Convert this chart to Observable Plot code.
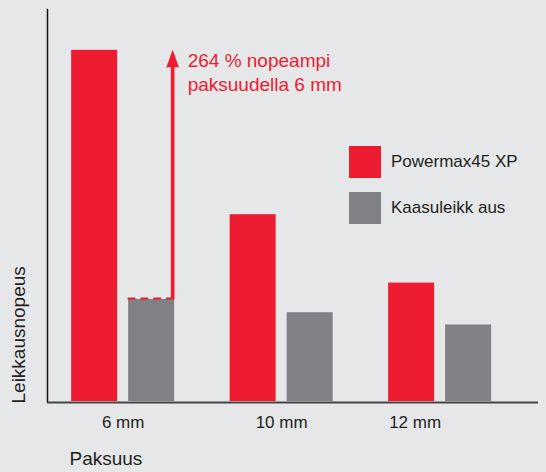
<!DOCTYPE html>
<html>
<head>
<meta charset="utf-8">
<script src="https://cdn.jsdelivr.net/npm/d3@7"></script>
<script src="https://cdn.jsdelivr.net/npm/@observablehq/plot@0.6"></script>
<style>
  html, body { margin: 0; padding: 0; background: #e6e7e9; }
  #wrap { position: relative; width: 546px; height: 472px; font-family: "Liberation Sans", Arial, Helvetica, sans-serif; }
  #legend { position: absolute; left: 349px; top: 146px; }
  #legend .item { display: flex; align-items: center; height: 32px; margin-bottom: 14px; }
  #legend .sw { width: 32px; height: 32px; margin-right: 10px; }
  #legend .lbl { font-size: 17px; color: #231f20; }
</style>
</head>
<body>
<div id="wrap"><div id="chart"></div><div id="legend"></div></div>
<script>
// ---- data ----
const thickness = ["6 mm", "10 mm", "12 mm"];
const series = ["Powermax45 XP", "Kaasuleikk aus"];
const powermax = [344, 183, 116];   // relative cutting speed (Kaasuleikkaus 6 mm = 100)
const kaasu = [100, 87, 75];
const colors = ["#ed1c30", "#808184"];
const annotation = "264 % nopeampi\npaksuudella 6 mm";
const xTitle = "Paksuus";
const yTitle = "Leikkausnopeus";

const rows = thickness.map((t, i) => ({thickness: t, powermax: powermax[i], kaasu: kaasu[i]}));
const first = [rows[0]];
const red = colors[0], grey = colors[1];

const chart = Plot.plot({
  width: 546,
  height: 472,
  marginTop: 9,
  marginBottom: 71,
  marginLeft: 47,
  marginRight: 8,
  style: {background: "#e6e7e9", fontFamily: "'Liberation Sans', Arial, Helvetica, sans-serif", fontSize: "17px", color: "#231f20"},
  x: {domain: thickness, paddingInner: 0.35, paddingOuter: 0.224, align: 0.34, round: false, label: null},
  y: {domain: [0, 384], axis: null, label: null},
  marks: [
    Plot.barY(rows, {x: "thickness", y: "powermax", fill: red, insetRight: 57}),
    Plot.barY(rows, {x: "thickness", y: "kaasu", fill: grey, insetLeft: 57}),
    // dashed reference line on top of the 6 mm gas-cutting bar
    Plot.ruleY(first, {x1: "thickness", x2: "thickness", y: "kaasu", stroke: red, strokeWidth: 2, strokeDasharray: "7.8,5", insetLeft: 56.5, dy: -1}),
    // arrow shaft
    Plot.ruleX(first, {x: "thickness", y1: "powermax", y2: "kaasu", stroke: red, strokeWidth: 3.7, insetTop: 12, dx: 49.5}),
    // arrow head
    Plot.vector(first, {x: "thickness", y: "powermax", length: 17, r: 6, rotate: 0, shape: "spike", anchor: "end", fill: red, stroke: red, strokeWidth: 0.5, dx: 49.5}),
    Plot.text(first, {x: "thickness", y: "powermax", text: () => annotation, fill: red, fontSize: 19, textAnchor: "start", lineAnchor: "top", lineHeight: 1.26, dx: 64.5}),
    // axes
    Plot.frame({anchor: "left", stroke: "#111", strokeWidth: 1.5}),
    Plot.ruleY([0], {stroke: "#444", strokeWidth: 2, dy: 1}),
    Plot.axisX({ticks: thickness.slice(0, 2), tickSize: 0, tickPadding: 14, fontSize: 17, label: null}),
    Plot.axisX({ticks: thickness.slice(2), tickSize: 0, tickPadding: 14, fontSize: 17, label: null, dx: -25}),
    Plot.text([xTitle], {frameAnchor: "bottom-left", text: d => d, textAnchor: "start", fontSize: 19, dx: 22, dy: 63, fill: "#231f20"}),
    Plot.text([yTitle], {frameAnchor: "bottom-left", text: d => d, textAnchor: "start", rotate: -90, fontSize: 19, dx: -23, dy: 2, fill: "#231f20"})
  ]
});
document.getElementById("chart").appendChild(chart);

const items = d3.select("#legend").selectAll("div.item").data(series).join("div").attr("class", "item");
items.append("div").attr("class", "sw").style("background", (d, i) => colors[i]);
items.append("div").attr("class", "lbl").text(d => d);
</script>
</body>
</html>
